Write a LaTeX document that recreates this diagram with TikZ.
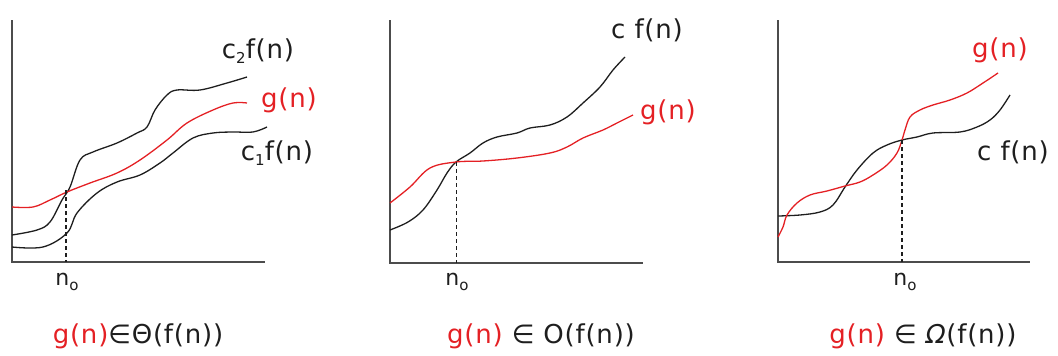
\documentclass[tikz,border=0pt]{standalone}
\usepackage{fontspec}
\setmainfont[LetterSpace=3]{DejaVu Sans}
\definecolor{gred}{RGB}{228,32,36}
\definecolor{ink}{RGB}{30,30,30}
\newcommand{\subsc}[1]{\raisebox{-0.35ex}{\fontsize{15}{15}\selectfont #1}}
\begin{document}
\begin{tikzpicture}[x=1pt,y=-1pt,
  axis/.style={line width=1.7pt, draw=black!70},
  curve/.style={line width=1.3pt, draw=ink},
  redcurve/.style={line width=1.3pt, draw=gred},
  guide/.style={line width=1.2pt, draw=ink, dash pattern=on 4pt off 3pt},
  lab/.style={font=\fontsize{26}{30}\selectfont, inner sep=0pt, text=ink},
  rlab/.style={lab, text=gred},
  nlab/.style={font=\fontsize{22}{26}\selectfont, inner sep=0pt, text=ink},
  caption/.style={font=\fontsize{26}{30}\selectfont, inner sep=0pt, text=ink}]
\useasboundingbox (0,0) rectangle (1058,356);

% ---------------- Panel 1: Theta ----------------
\draw[axis] (12,20) -- (12,262) -- (265,262);
\draw[curve] plot[smooth, tension=0.6] coordinates {(12,235) (37,230) (50,222) (62,200) (70,187) (80,160) (93,152) (117,143) (137,133) (147,127) (155,110) (167,95) (177,90) (200,90) (227,83) (247,77)};
\draw[redcurve] plot[smooth, tension=0.6] coordinates {(12,207) (33,207) (50,200) (67,192) (90,183) (117,173) (140,160) (167,140) (187,123) (213,110) (233,103) (247,103)};
\draw[curve] plot[smooth, tension=0.6] coordinates {(12,247) (43,247) (67,233) (77,213) (97,193) (117,182) (140,175) (160,163) (173,153) (193,138) (213,133) (233,132) (253,132) (267,127)};
\coordinate (x1) at (66,190);
\coordinate (b1) at (66,262);
\draw[guide] (x1) -- (b1);
\node[nlab] (n1) at (67,282) {n\subsc{o}};
\node[lab] (c2) at (258,51) {c\subsc{2}f(n)};
\node[rlab] (g1) at (289,100) {g(n)};
\node[lab] (c1) at (277,153) {c\subsc{1}f(n)};
\node[caption] (t1) at (138,336) {\textcolor{gred}{g(n)}∈Θ(f(n))};

% ---------------- Panel 2: O ----------------
\draw[axis] (390,20) -- (390,263) -- (643,263);
\draw[curve] plot[smooth, tension=0.6] coordinates {(390,230) (408,222) (423,210) (437,190) (447,173) (456,162) (470,153) (483,143) (497,137) (517,133) (530,128) (550,125) (567,117) (583,103) (600,87) (613,70) (625,57)};
\draw[redcurve] plot[smooth, tension=0.6] coordinates {(390,203) (410,187) (430,168) (456,162) (483,161) (517,158) (550,153) (567,147) (583,138) (603,130) (617,123) (633,115)};
\coordinate (x2) at (456,162);
\coordinate (b2) at (456,263);
\draw[guide, line width=0.9pt] (x2) -- (b2);
\node[nlab] (n2) at (457,282) {n\subsc{o}};
\node[lab] (cf2) at (647,30) {c f(n)};
\node[rlab] (g2) at (668,112) {g(n)};
\node[caption] (t2) at (541,336) {\textcolor{gred}{g(n)} ∈ O(f(n))};

% ---------------- Panel 3: Omega ----------------
\draw[axis] (778,20) -- (778,262) -- (1030,262);
\draw[curve] plot[smooth, tension=0.6] coordinates {(778,216) (800,215) (820,212) (833,205) (845,187) (857,170) (873,153) (887,145) (902,140) (917,137) (933,133) (960,132) (977,127) (990,120) (1000,110) (1010,95)};
\draw[redcurve] plot[smooth, tension=0.6] coordinates {(778,237) (783,227) (787,215) (797,203) (810,195) (827,191) (845,186) (860,182) (873,175) (887,165) (897,153) (902,140) (905,130) (910,117) (920,110) (933,105) (950,100) (967,93) (983,83) (998,73)};
\coordinate (x3) at (902,140);
\coordinate (b3) at (902,262);
\draw[guide] (x3) -- (b3);
\node[nlab] (n3) at (905,282) {n\subsc{o}};
\node[rlab] (g3) at (1000,50) {g(n)};
\node[lab] (cf3) at (1013,152) {c f(n)};
\node[caption] (t3) at (923,336) {\textcolor{gred}{g(n)} ∈ \textit{Ω}(f(n))};
\end{tikzpicture}
\end{document}
